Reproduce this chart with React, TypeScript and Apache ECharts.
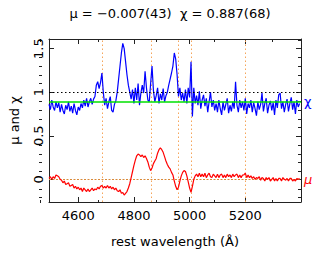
import React, { useEffect, useRef } from "react";
import * as echarts from "echarts";

// Spectral grid: 5 Å sampling starting at 4495 Å
const LAMBDA_START = 4495;
const LAMBDA_STEP = 5;

// chi (blue) values, rows of 10 samples (50 Å per row)
const chiValues: number[] = [
  0.86, 0.80, 0.91, 0.83, 0.79, 0.89, 0.82, 0.88, 0.77, 0.86, // 4495
  0.79, 0.75, 0.85, 0.80, 0.89, 0.78, 0.84, 0.76, 0.87, 0.79, // 4545
  0.74, 0.83, 0.79, 0.87, 0.82, 0.91, 0.84, 0.93, 0.83, 0.89, // 4595
  0.93, 0.86, 0.92, 0.95, 1.08, 1.12, 1.04, 1.11, 1.22, 1.00, // 4645
  0.85, 0.93, 0.81, 0.89, 0.95, 0.79, 0.77, 0.86, 0.90, 1.00, // 4695
  1.15, 1.30, 1.45, 1.56, 1.50, 1.35, 1.20, 1.08, 1.00, 0.92, // 4745
  1.03, 0.87, 1.05, 0.91, 1.10, 0.85, 0.99, 1.08, 0.99, 1.24, // 4795
  1.05, 0.91, 0.89, 1.10, 1.30, 1.02, 0.89, 0.96, 1.05, 0.87, // 4845
  0.98, 0.91, 1.04, 0.89, 0.96, 1.00, 1.08, 1.15, 1.22, 1.30, // 4895
  1.45, 1.38, 1.20, 0.95, 1.05, 0.91, 0.99, 0.89, 1.03, 0.87, // 4945
  1.05, 0.94, 1.35, 0.72, 1.05, 0.87, 0.96, 0.85, 1.01, 0.81, // 4995
  0.91, 0.97, 0.84, 0.93, 0.77, 0.89, 1.00, 0.83, 0.91, 0.79, // 5045
  0.87, 0.77, 0.91, 0.81, 0.74, 0.89, 0.79, 0.86, 0.93, 0.76, // 5095
  0.85, 0.78, 0.89, 0.81, 1.12, 0.85, 0.77, 0.91, 0.82, 0.89, // 5145
  0.79, 0.93, 0.75, 0.87, 0.82, 0.91, 0.77, 0.88, 0.81, 0.73, // 5195
  0.89, 0.80, 0.86, 0.99, 0.78, 0.87, 0.93, 0.76, 0.85, 0.90, // 5245
  0.79, 0.88, 0.74, 0.91, 0.82, 0.97, 0.99, 0.81, 0.89, 0.77, // 5295
  0.86, 0.92, 0.78, 0.87, 0.94, 0.80, 0.89, 0.75, 0.91, 0.83, // 5345
  0.87, // 5395
];

// mu (red) values, same grid
const muValues: number[] = [
  0.01, 0.03, 0.00, 0.03, 0.01, 0.05, 0.04, 0.03, 0.00, -0.01, // 4495
  -0.04, -0.02, -0.06, -0.05, -0.04, -0.08, -0.07, -0.06, -0.10, -0.08, // 4545
  -0.11, -0.09, -0.12, -0.10, -0.14, -0.10, -0.12, -0.14, -0.11, -0.14, // 4595
  -0.12, -0.10, -0.13, -0.11, -0.12, -0.09, -0.11, -0.08, -0.07, -0.10, // 4645
  -0.08, -0.10, -0.07, -0.10, -0.08, -0.11, -0.09, -0.12, -0.10, -0.13, // 4695
  -0.14, -0.12, -0.16, -0.15, -0.18, -0.16, -0.14, -0.10, -0.05, 0.02, // 4745
  0.09, 0.16, 0.22, 0.27, 0.29, 0.28, 0.26, 0.28, 0.25, 0.27, // 4795
  0.24, 0.20, 0.14, 0.10, 0.13, 0.18, 0.21, 0.24, 0.30, 0.34, // 4845
  0.36, 0.34, 0.31, 0.26, 0.21, 0.17, 0.14, 0.12, 0.08, 0.05, // 4895
  -0.02, -0.08, -0.12, -0.09, -0.02, 0.04, 0.08, 0.10, 0.09, 0.04, // 4945
  -0.03, -0.10, -0.15, -0.08, 0.00, 0.04, 0.06, 0.03, 0.07, 0.03, // 4995
  0.06, 0.03, 0.07, 0.02, 0.05, 0.07, 0.03, 0.02, 0.06, 0.04, // 5045
  0.02, 0.06, 0.02, 0.05, 0.06, 0.02, 0.05, 0.02, 0.06, 0.03, // 5095
  0.05, 0.02, 0.06, 0.03, 0.05, 0.06, 0.02, 0.05, 0.02, 0.05, // 5145
  0.05, 0.07, 0.02, 0.05, 0.02, 0.04, 0.01, 0.03, 0.00, 0.02, // 5195
  0.01, 0.03, -0.01, 0.02, 0.01, -0.02, 0.02, 0.00, 0.02, -0.02, // 5245
  0.00, 0.02, -0.02, 0.01, -0.02, 0.01, 0.01, -0.02, 0.02, 0.00, // 5295
  -0.01, 0.01, -0.02, 0.01, 0.01, -0.02, 0.00, -0.02, 0.01, 0.00, // 5345
  0.01, // 5395
];

const CHI_FIT = 0.887;
const TITLE = "\u03bc = \u22120.007(43)  \u03c7 = 0.887(68)";
const LINE_WAVELENGTHS = [4686, 4861, 4959, 5007, 5200];

const X_MIN = 4495;
const X_MAX = 5400;
const Y_MIN = -0.26;
const Y_MAX = 1.61;
const X_MAJOR = [4600, 4800, 5000, 5200];
const X_MINOR = [4500, 4700, 4900, 5100, 5300];
const Y_MAJOR = [0, 0.5, 1, 1.5];
const Y_MINOR = [-0.2, -0.1, 0.1, 0.2, 0.3, 0.4, 0.6, 0.7, 0.8, 0.9, 1.1, 1.2, 1.3, 1.4, 1.6];

const FONT = "DejaVu Sans";

export default function App() {
  const ref = useRef<HTMLDivElement>(null);
  useEffect(() => {
    if (!ref.current) return;
    const chart = echarts.init(ref.current, undefined, { renderer: "svg" });
    const chiData = chiValues.map((v, i) => [LAMBDA_START + i * LAMBDA_STEP, v]);
    const muData = muValues.map((v, i) => [LAMBDA_START + i * LAMBDA_STEP, v]);

    const frameColor = "#222";
    const gridPos = { left: 39, right: 13, top: 39, bottom: 50 };
    const xAxisBase = (gridIndex: number, position: string, ticks: number[], len: number, labels: boolean, line: boolean) => ({
      type: "value",
      gridIndex,
      position,
      min: X_MIN,
      max: X_MAX,
      axisLine: { show: line, onZero: false, lineStyle: { color: frameColor, width: 1 } },
      axisTick: { show: true, inside: true, length: len, customValues: ticks, lineStyle: { color: frameColor, width: 1 } },
      axisLabel: labels
        ? {
            show: true,
            customValues: ticks,
            margin: 7,
            fontSize: 13,
            color: "#000",
            fontFamily: FONT,
            formatter: (v: number) => String(v),
          }
        : { show: false },
      splitLine: { show: false },
    });
    const yAxisBase = (gridIndex: number, position: string, ticks: number[], len: number, labels: boolean, line: boolean) => ({
      type: "value",
      gridIndex,
      position,
      min: Y_MIN,
      max: Y_MAX,
      axisLine: { show: line, onZero: false, lineStyle: { color: frameColor, width: 1 } },
      axisTick: { show: true, inside: true, length: len, customValues: ticks, lineStyle: { color: frameColor, width: 1 } },
      axisLabel: labels
        ? {
            show: true,
            customValues: ticks,
            rotate: 90,
            margin: 4,
            fontSize: 13,
            color: "#000",
            fontFamily: FONT,
            formatter: (v: number) => String(v),
          }
        : { show: false },
      splitLine: { show: false },
    });

    const option: any = {
      animation: false,
      textStyle: { fontFamily: FONT },
      graphic: [
        {
          type: "text",
          x: 170,
          y: 13,
          style: {
            text: TITLE,
            align: "center",
            verticalAlign: "middle",
            fontSize: 13,
            fontFamily: FONT,
            fill: "#000",
          },
        },
      ],
      grid: [
        { ...gridPos, show: false },
        { ...gridPos, show: false },
      ],
      xAxis: [
        {
          ...xAxisBase(0, "bottom", X_MAJOR, 5, true, true),
          name: "rest wavelength (\u00c5)",
          nameLocation: "middle",
          nameGap: 33,
          nameTextStyle: { fontSize: 13, color: "#000", fontFamily: FONT },
        },
        xAxisBase(0, "top", X_MAJOR, 5, false, true),
        xAxisBase(1, "bottom", X_MINOR, 3, false, false),
        xAxisBase(1, "top", X_MINOR, 3, false, false),
      ],
      yAxis: [
        {
          ...yAxisBase(0, "left", Y_MAJOR, 5, true, true),
          name: "\u03bc and \u03c7",
          nameLocation: "middle",
          nameGap: 28,
          nameRotate: 90,
          nameTextStyle: { fontSize: 13, color: "#000", fontFamily: FONT },
        },
        yAxisBase(0, "right", Y_MAJOR, 5, false, true),
        yAxisBase(1, "left", Y_MINOR, 3, false, false),
        yAxisBase(1, "right", Y_MINOR, 3, false, false),
      ],
      series: [
        {
          type: "line",
          xAxisIndex: 2,
          yAxisIndex: 2,
          data: [],
          silent: true,
        },
        {
          name: "mu",
          type: "line",
          xAxisIndex: 0,
          yAxisIndex: 0,
          data: muData,
          showSymbol: false,
          symbol: "none",
          lineStyle: { color: "#ff0000", width: 1.2 },
          itemStyle: { color: "#ff0000" },
          z: 3,
          markLine: {
            silent: true,
            symbol: "none",
            animation: false,
            z: 1,
            data: [
              ...LINE_WAVELENGTHS.map((w) => ({
                xAxis: w,
                lineStyle: { color: "#f5a55a", type: [1.5, 2.5], width: 1 },
                label: { show: false },
              })),
              {
                yAxis: 0,
                lineStyle: { color: "#d98a3a", type: [2, 1.5], width: 1 },
                label: {
                  show: true,
                  position: "end",
                  distance: 3,
                  formatter: "\u03bc",
                  color: "#ff0000",
                  fontSize: 13,
                  fontStyle: "italic",
                  fontFamily: FONT,
                },
              },
            ],
          },
        },
        {
          name: "chi",
          type: "line",
          xAxisIndex: 0,
          yAxisIndex: 0,
          data: chiData,
          showSymbol: false,
          symbol: "none",
          lineStyle: { color: "#0000ff", width: 1.2 },
          itemStyle: { color: "#0000ff" },
          z: 3,
          markLine: {
            silent: true,
            symbol: "none",
            animation: false,
            data: [
              {
                yAxis: 1,
                lineStyle: { color: "#000", type: [1.5, 2.5], width: 1 },
                label: { show: false },
              },
              {
                yAxis: CHI_FIT,
                lineStyle: { color: "#00e000", type: "solid", width: 1.5 },
                label: {
                  show: true,
                  position: "end",
                  distance: 3,
                  formatter: "\u03c7",
                  color: "#0000ff",
                  fontSize: 13,
                  fontFamily: FONT,
                },
              },
            ],
          },
        },
      ],
    };
    chart.setOption(option);
    return () => chart.dispose();
  }, []);
  return (
    <div
      ref={ref}
      style={{ position: "absolute", left: 0, top: 0, width: 314, height: 253, background: "#fff" }}
    />
  );
}
